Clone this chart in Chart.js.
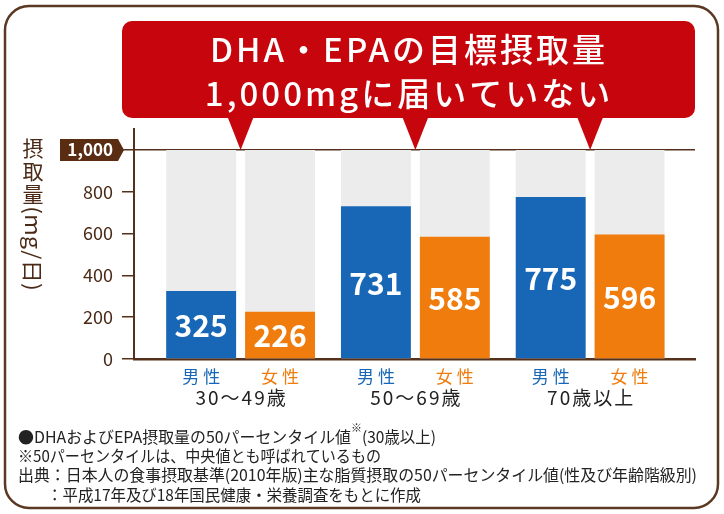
<!DOCTYPE html>
<html>
<head>
<meta charset="utf-8">
<script src="https://cdn.jsdelivr.net/npm/chart.js@4/dist/chart.umd.min.js"></script>
<style>
  html, body { margin: 0; padding: 0; background: #fff; }
  #wrap { width: 724px; height: 514px; }
</style>
</head>
<body>
<div id="wrap"><canvas id="dhaChart" width="724" height="514"></canvas></div>
<script>
// data
const ageGroups = ['30〜49歳', '50〜69歳', '70歳以上'];
const maleValues = [325, 731, 775];
const femaleValues = [226, 585, 596];
const targetValues = [1000, 1000, 1000];
const yTicks = [0, 200, 400, 600, 800, 1000];

const titleLines = ['DHA・EPAの目標摂取量', '1,000mgに届いていない'];
const yTitleKanji = ['摂', '取', '量'];
const yTitleUnit = '(mg/日)';
const notes = [
    '●DHAおよびEPA摂取量の50パーセンタイル値',
    '※50パーセンタイルは、中央値とも呼ばれているもの',
    '出典：日本人の食事摂取基準(2010年版)主な脂質摂取の50パーセンタイル値(性及び年齢階級別)',
    '：平成17年及び18年国民健康・栄養調査をもとに作成'
];

const BLUE = '#1767b6';
const ORANGE = '#ef7c0c';
const GREY = '#ececec';
const BROWN = '#55301a';
const RED = '#c6050c';
const JP = '"Noto Sans CJK JP", "Noto Sans", sans-serif';

function toPoints(values) {
    return values.map((v, i) => ({ x: i + 1, y: v }));
}

function roundRect(ctx, x, y, w, h, r) {
    ctx.beginPath();
    ctx.moveTo(x + r, y);
    ctx.arcTo(x + w, y, x + w, y + h, r);
    ctx.arcTo(x + w, y + h, x, y + h, r);
    ctx.arcTo(x, y + h, x, y, r);
    ctx.arcTo(x, y, x + w, y, r);
    ctx.closePath();
}

// squeeze or stretch a line of text so it spans the given width
function fitText(ctx, text, x, y, width) {
    const w = ctx.measureText(text).width;
    ctx.save();
    ctx.translate(x, y);
    ctx.scale(width / w, 1);
    ctx.fillText(text, 0, 0);
    ctx.restore();
}

// frame, 1,000 tag and vertical axis title
const backdrop = {
    id: 'backdrop',
    beforeDraw(chart) {
        const ctx = chart.ctx;
        const y = chart.scales.y;
        ctx.save();
        ctx.fillStyle = '#fff';
        ctx.fillRect(0, 0, chart.width, chart.height);

        ctx.strokeStyle = '#5a3822';
        ctx.lineWidth = 2.5;
        roundRect(ctx, 5, 6, 713, 502, 24);
        ctx.stroke();

        // dark tag behind the 1,000 tick label
        const ty = y.getPixelForValue(1000);
        ctx.fillStyle = '#5a2c12';
        ctx.beginPath();
        ctx.moveTo(60, ty - 11);
        ctx.lineTo(118, ty - 11);
        ctx.lineTo(124, ty);
        ctx.lineTo(118, ty + 11);
        ctx.lineTo(60, ty + 11);
        ctx.closePath();
        ctx.fill();

        // axis title, written vertically
        ctx.fillStyle = '#4a2a16';
        ctx.font = '21px ' + JP;
        ctx.textAlign = 'center';
        ctx.textBaseline = 'middle';
        yTitleKanji.forEach((ch, i) => ctx.fillText(ch, 33, 148 + i * 23));
        ctx.translate(33, 206);
        ctx.rotate(Math.PI / 2);
        ctx.textAlign = 'left';
        fitText(ctx, yTitleUnit, 0, 0, 85);
        ctx.restore();
    },
    afterDraw(chart) {
        const ctx = chart.ctx;
        const x = chart.scales.x;
        const y = chart.scales.y;
        ctx.save();

        // red headline box with pointers to each age group
        const boxBottom = 118;
        ctx.fillStyle = RED;
        roundRect(ctx, 122, 21, 573, boxBottom - 21, 10);
        ctx.fill();
        const tip = y.getPixelForValue(1000);
        ageGroups.forEach((g, i) => {
            const cx = x.getPixelForValue(i + 1);
            ctx.beginPath();
            ctx.moveTo(cx - 13, boxBottom - 1);
            ctx.lineTo(cx + 13, boxBottom - 1);
            ctx.lineTo(cx, tip);
            ctx.closePath();
            ctx.fill();
        });
        ctx.fillStyle = '#fff';
        ctx.font = '500 33px ' + JP;
        ctx.textAlign = 'center';
        ctx.textBaseline = 'middle';
        ctx.letterSpacing = '3px';
        ctx.fillText(titleLines[0], 409, 49);
        ctx.fillText(titleLines[1], 409, 93);

        // age group under each pair of bars
        ctx.fillStyle = '#222';
        ctx.font = '19px ' + JP;
        ctx.letterSpacing = '2px';
        ageGroups.forEach((g, i) => ctx.fillText(g, x.getPixelForValue(i + 1) + 1, 398));
        ctx.letterSpacing = '0px';

        // value inside each bar, gender label under it
        [0, 1].forEach(di => {
            const ds = chart.data.datasets[di];
            chart.getDatasetMeta(di).data.forEach((bar, i) => {
                ctx.fillStyle = '#fff';
                ctx.font = 'bold 30px ' + JP;
                ctx.fillText(String(ds.data[i].y), bar.x, (bar.y + bar.base) / 2 + 1);
                ctx.fillStyle = ds.backgroundColor;
                ctx.font = '17px ' + JP;
                ctx.letterSpacing = '4px';
                ctx.fillText(ds.label, bar.x + 2, 377);
                ctx.letterSpacing = '0px';
            });
        });

        // notes under the chart
        ctx.fillStyle = '#222';
        ctx.textAlign = 'left';
        ctx.font = '16px ' + JP;
        fitText(ctx, notes[0], 18, 437, 333);
        ctx.font = '11px ' + JP;
        ctx.fillText('※', 351, 428);
        ctx.font = '16px ' + JP;
        fitText(ctx, '(30歳以上)', 362, 437, 74);
        fitText(ctx, notes[1], 18, 456, 363);
        fitText(ctx, notes[2], 18, 475, 679);
        fitText(ctx, notes[3], 47, 495, 374);
        ctx.restore();
    }
};

new Chart(document.getElementById('dhaChart'), {
    type: 'bar',
    data: {
        datasets: [
            { label: '男性', data: toPoints(maleValues), backgroundColor: BLUE, stack: 'm' },
            { label: '女性', data: toPoints(femaleValues), backgroundColor: ORANGE, stack: 'f' },
            { label: '目標', data: toPoints(targetValues), backgroundColor: GREY, stack: 'm' },
            { label: '目標', data: toPoints(targetValues), backgroundColor: GREY, stack: 'f' }
        ]
    },
    options: {
        responsive: false,
        animation: false,
        devicePixelRatio: 1,
        categoryPercentage: 0.903,
        barPercentage: 0.886,
        layout: { padding: { left: 0, right: 29, top: 129, bottom: 0 } },
        plugins: { legend: { display: false }, tooltip: { enabled: false } },
        scales: {
            x: {
                type: 'linear',
                offset: false,
                min: 0.39,
                max: 3.6,
                afterBuildTicks: s => { s.ticks = ageGroups.map((g, i) => ({ value: i + 1 })); },
                afterFit: s => { s.height = 155; },
                grid: { display: false, drawTicks: false, offset: false },
                border: { color: BROWN, width: 2.5 },
                ticks: { display: false }
            },
            y: {
                stacked: false,
                min: 0,
                max: 1100,
                afterBuildTicks: s => { s.ticks = yTicks.map(v => ({ value: v })); },
                afterFit: s => { s.width = 134; },
                border: { color: BROWN, width: 2 },
                grid: {
                    tickLength: 12,
                    tickColor: BROWN,
                    lineWidth: 1.5,
                    color: c => (c.tick && c.tick.value === 1000 ? BROWN : 'rgba(0,0,0,0)')
                },
                ticks: {
                    padding: 9,
                    color: c => (c.tick.value === 1000 ? '#fff' : '#4a2a16'),
                    font: c => (c.tick && c.tick.value === 1000
                        ? { family: JP, size: 17, weight: 'bold' }
                        : { family: JP, size: 18 }),
                    callback: v => v.toLocaleString('en-US')
                }
            }
        }
    },
    plugins: [backdrop]
});
</script>
</body>
</html>
